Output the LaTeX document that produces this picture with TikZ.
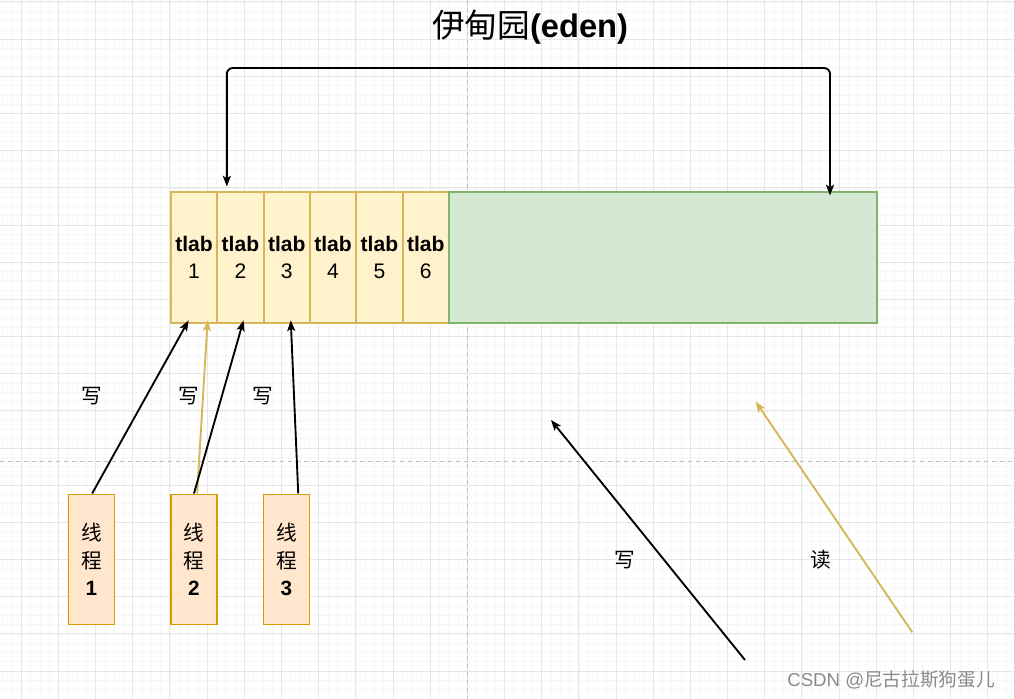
\documentclass[tikz,border=0pt]{standalone}
\usepackage{fontspec}
\setmainfont{Liberation Sans}
\newfontfamily\cjk{Noto Sans CJK SC}
\usetikzlibrary{arrows.meta,calc}
\definecolor{cellfill}{HTML}{FFF2CC}
\definecolor{cellline}{HTML}{D6B656}
\definecolor{edenfill}{HTML}{D5E8D4}
\definecolor{edenline}{HTML}{82B366}
\definecolor{thfill}{HTML}{FFE6CC}
\definecolor{thline}{HTML}{D79B00}
\definecolor{gridmaj}{HTML}{E6E6E6}
\definecolor{gridmin}{HTML}{F7F7F7}
\definecolor{pageline}{HTML}{BDBDBD}
\definecolor{wm}{HTML}{8A8A8A}
\tikzset{
  cellbox/.style={draw=cellline,fill=cellfill,line width=1.4pt,inner sep=0pt,
    minimum width=34.75pt,minimum height=98.25pt,anchor=north west,align=center,
    font=\fontsize{15.8}{20.5}\selectfont},
  edenbox/.style={draw=edenline,fill=edenfill,line width=1.4pt,inner sep=0pt,
    minimum width=321pt,minimum height=98.25pt,anchor=north west},
  thbox/.style={draw=thline,fill=thfill,line width=1.4pt,inner sep=0pt,
    minimum width=34.5pt,minimum height=97.5pt,anchor=north west,align=center,
    font=\fontsize{15.5}{20.6}\selectfont},
  conn/.style={line width=1.4pt,-{Stealth[length=8pt,width=6pt,inset=1.8pt]}},
  lbl/.style={font=\cjk\fontsize{15.5}{18}\selectfont},
}
\begin{document}
\begin{tikzpicture}[x=0.75pt,y=-0.75pt]
\useasboundingbox (0,0) rectangle (1014,699);
\fill[white] (0,0) rectangle (1014,699);
% grid
\foreach \i in {0,...,109} {
  \draw[gridmin,line width=0.5pt] ({2.72+9.2925*\i},0) -- ++(0,699);
}
\foreach \i in {0,...,75} {
  \draw[gridmin,line width=0.5pt] (0,{2+9.2925*\i}) -- ++(1014,0);
}
\foreach \i in {0,...,27} {
  \draw[gridmaj,line width=0.75pt] ({21.3+37.17*\i},0) -- ++(0,699);
}
\foreach \i in {0,...,18} {
  \draw[gridmaj,line width=0.75pt] (0,{2+37.17*\i}) -- ++(1014,0);
}
\draw[pageline,dashed,line width=0.6pt] (467.3,0) -- (467.3,699);
\draw[pageline,dashed,line width=0.6pt] (0,461) -- (1014,461);
% title
\node[font=\fontsize{24.5}{28}\selectfont] (title) at (530,27) {{\cjk 伊甸园}\textbf{(eden)}};
% cells
\node[cellbox] (c1) at (170,191) {\textbf{tlab}\\1};
\node[cellbox] (c2) at (216.33,191) {\textbf{tlab}\\2};
\node[cellbox] (c3) at (262.67,191) {\textbf{tlab}\\3};
\node[cellbox] (c4) at (309,191) {\textbf{tlab}\\4};
\node[cellbox] (c5) at (355.33,191) {\textbf{tlab}\\5};
\node[cellbox] (c6) at (401.67,191) {\textbf{tlab}\\6};
\node[edenbox] (eden) at (448,191) {};
% threads
\node[thbox] (t1) at (67.5,493.5) {{\cjk 线}\\{\cjk 程}\\\textbf{1}};
\node[thbox] (t2) at (170,493.5) {{\cjk 线}\\{\cjk 程}\\\textbf{2}};
\node[thbox] (t3) at (262.5,493.5) {{\cjk 线}\\{\cjk 程}\\\textbf{3}};
% top connector
\coordinate (ta) at ($(c2.north)+(-13.6,-4.5)$);
\coordinate (tb) at (830,195.5);
\coordinate (topy) at (500,68);
\draw[line width=1.4pt,{Stealth[length=8pt,width=6pt,inset=1.8pt]}-{Stealth[length=8pt,width=6pt,inset=1.8pt]},rounded corners=4.5pt]
  (ta) -- (ta |- topy) -- (tb |- topy) -- (tb);
% thread arrows
\draw[conn] ($(t1.north)+(0.7,0)$) -- ($(c1.south)+(-5.5,-3.5)$);
\draw[conn,cellline] ($(t2.north)+(3.2,0)$) -- ($(c1.south)+(13.5,-3.5)$);
\draw[conn] (t2.north) -- ($(c2.south)+(3.1,-3.5)$);
\draw[conn] ($(t3.north)+(11.8,0)$) -- ($(c3.south)+(4,-3.5)$);
% labels
\node[lbl] (w1) at (91.5,396.5) {写};
\node[lbl] (w2) at (189.3,396.5) {写};
\node[lbl] (w3) at (263.3,396.5) {写};
% right arrows
\coordinate (wa) at (745,660);
\coordinate (wb) at (551,420);
\coordinate (ra) at (912.3,632.3);
\coordinate (rb) at (755.7,401.7);
\draw[conn] (wa) -- (wb);
\draw[conn,cellline] (ra) -- (rb);
\node[lbl] (w4) at (625,560) {写};
\node[lbl] (r1) at (821,560) {读};
% watermark
\node[anchor=west,text=wm,inner sep=0pt,font=\fontsize{14}{16}\selectfont] (wmk) at (787,680) {CSDN @{\cjk 尼古拉斯狗蛋儿}};
\end{tikzpicture}
\end{document}
